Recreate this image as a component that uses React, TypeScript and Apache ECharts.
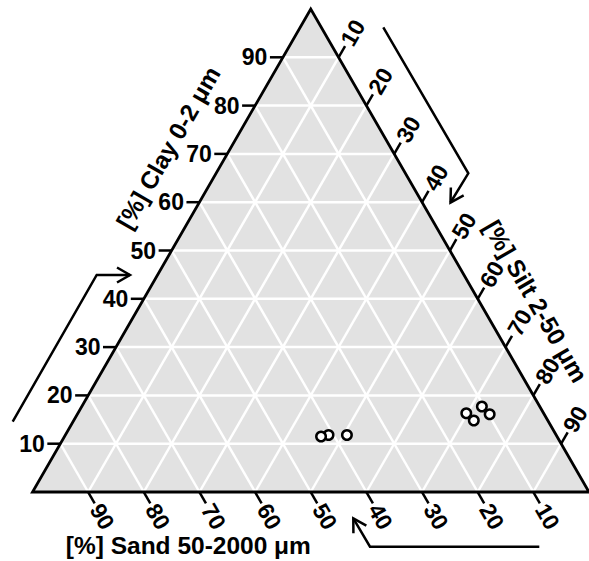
import React, { useEffect, useRef } from "react";
import * as echarts from "echarts";

// ---- data ----
const tickValues = [10, 20, 30, 40, 50, 60, 70, 80, 90];
const tickLabels = tickValues.map((v) => String(v));
const sandPct = [40.9, 42.4, 37.6, 13.9, 13.3, 9.8, 10.4];
const siltPct = [47.3, 46.1, 50.6, 69.8, 71.9, 74.1, 71.9];
const clayPct = [11.8, 11.5, 11.8, 16.3, 14.8, 16.1, 17.7];
const clayTitle = "[%] Clay 0-2 μm";
const siltTitle = "[%] Silt 2-50 μm";
const sandTitle = "[%] Sand 50-2000 μm";

// ternary (sand, silt, clay) -> cartesian data space (0..100, 0..100)
function tern(sa: number, si: number, cl: number): number[] {
  const t = sa + si + cl;
  return [((si + cl / 2) / t) * 100, (cl / t) * 100];
}

const FONT = '"Liberation Sans", Arial, Helvetica, sans-serif';
const S3 = Math.sqrt(3) / 2;

export default function App() {
  const ref = useRef<HTMLDivElement>(null);
  useEffect(() => {
    if (!ref.current) return;
    const chart = echarts.init(ref.current, undefined, { renderer: "svg" });

    // gridline segments (three families)
    const gridSegs: number[][] = [];
    tickValues.forEach((v) => {
      gridSegs.push([...tern(100 - v, 0, v), ...tern(0, 100 - v, v)]); // clay
      gridSegs.push([...tern(v, 100 - v, 0), ...tern(v, 0, 100 - v)]); // sand
      gridSegs.push([...tern(100 - v, v, 0), ...tern(0, v, 100 - v)]); // silt
    });

    const corners = [tern(100, 0, 0), tern(0, 100, 0), tern(0, 0, 100)];

    // tick items: [axis, value, labelIndex]
    const tickItems: number[][] = [];
    tickValues.forEach((v, i) => {
      tickItems.push([0, v, i]);
      tickItems.push([1, v, i]);
      tickItems.push([2, v, i]);
    });

    const points = sandPct.map((s, i) => tern(s, siltPct[i], clayPct[i]));

    const arrowHead = (tip: number[], from: number[]) => {
      const dx = tip[0] - from[0];
      const dy = tip[1] - from[1];
      const len = Math.hypot(dx, dy);
      const ux = dx / len, uy = dy / len;
      const L = 15, a = Math.PI / 6;
      const w = (ang: number) => [
        tip[0] - L * (ux * Math.cos(ang) - uy * Math.sin(ang)),
        tip[1] - L * (ux * Math.sin(ang) + uy * Math.cos(ang)),
      ];
      return [w(a), tip, w(-a)];
    };
    const arrows = [
      [[12.7, 421.7], [96.7, 275], [130, 275]],
      [[383.3, 27.3], [468.3, 173.3], [450.5, 202.5]],
      [[539.3, 546.7], [370, 546.7], [353.3, 518.3]],
    ];
    const arrowGraphics: any[] = [];
    arrows.forEach((pts) => {
      arrowGraphics.push({
        type: "polyline",
        silent: true,
        shape: { points: pts },
        style: { stroke: "#000", lineWidth: 2.5, fill: null },
      });
      arrowGraphics.push({
        type: "polyline",
        silent: true,
        shape: { points: arrowHead(pts[2], pts[1]) },
        style: { stroke: "#000", lineWidth: 2.5, fill: null },
      });
    });

    const option: any = {
      animation: false,
      backgroundColor: "#ffffff",
      grid: { left: 32.5, top: 9, width: 558, height: 483, containLabel: false },
      xAxis: { type: "value", min: 0, max: 100, show: false },
      yAxis: { type: "value", min: 0, max: 100, show: false },
      graphic: arrowGraphics,
      series: [
        {
          type: "custom",
          silent: true,
          clip: false,
          z: 1,
          data: [[0, 0]],
          renderItem: (params: any, api: any) => ({
            type: "polygon",
            shape: { points: corners.map((c) => api.coord(c)) },
            style: { fill: "#e2e2e2", stroke: null },
          }),
        },
        {
          type: "custom",
          silent: true,
          clip: false,
          z: 2,
          data: gridSegs,
          renderItem: (params: any, api: any) => {
            const p1 = api.coord([api.value(0), api.value(1)]);
            const p2 = api.coord([api.value(2), api.value(3)]);
            return {
              type: "line",
              shape: { x1: p1[0], y1: p1[1], x2: p2[0], y2: p2[1] },
              style: { stroke: "#ffffff", lineWidth: 2.5 },
            };
          },
        },
        {
          type: "custom",
          silent: true,
          clip: false,
          z: 3,
          data: [[0, 0]],
          renderItem: (params: any, api: any) => ({
            type: "polygon",
            shape: { points: corners.map((c) => api.coord(c)) },
            style: { fill: null, stroke: "#000", lineWidth: 2.8, lineJoin: "miter" },
          }),
        },
        {
          type: "custom",
          silent: true,
          clip: false,
          z: 4,
          data: tickItems,
          renderItem: (params: any, api: any) => {
            const axis = api.value(0);
            const v = api.value(1);
            const label = tickLabels[api.value(2)];
            let p: number[], d: number[], rot: number, align: string;
            if (axis === 0) {
              p = api.coord(tern(100 - v, 0, v));
              d = [-1, 0];
              rot = 0;
              align = "right";
            } else if (axis === 1) {
              p = api.coord(tern(0, v, 100 - v));
              d = [0.5, -S3];
              rot = Math.PI / 3;
              align = "left";
            } else {
              p = api.coord(tern(v, 100 - v, 0));
              d = [0.5, S3];
              rot = -Math.PI / 3;
              align = "left";
            }
            const tl = 13;
            const lo = 15.5;
            return {
              type: "group",
              children: [
                {
                  type: "line",
                  shape: { x1: p[0], y1: p[1], x2: p[0] + d[0] * tl, y2: p[1] + d[1] * tl },
                  style: { stroke: "#000", lineWidth: 2.5 },
                },
                {
                  type: "text",
                  x: p[0] + d[0] * lo,
                  y: p[1] + d[1] * lo,
                  rotation: rot,
                  style: {
                    text: label,
                    fontSize: 23,
                    fontWeight: "bold",
                    fontFamily: FONT,
                    fill: "#000",
                    align: align,
                    verticalAlign: "middle",
                  },
                },
              ],
            };
          },
        },
        {
          type: "custom",
          silent: true,
          clip: false,
          z: 4,
          data: [[0, 0]],
          renderItem: (params: any, api: any) => {
            const titles = [
              { text: clayTitle, at: tern(34.3, 0, 65.7), n: [-S3, -0.5], off: 54, rot: Math.PI / 3 },
              { text: siltTitle, at: tern(0, 65.6, 34.4), n: [S3, -0.5], off: 49, rot: -Math.PI / 3 },
              { text: sandTitle, at: tern(72, 28, 0), n: [0, 1], off: 53, rot: 0 },
            ];
            return {
              type: "group",
              children: titles.map((t) => {
                const p = api.coord(t.at);
                return {
                  type: "text",
                  x: p[0] + t.n[0] * t.off,
                  y: p[1] + t.n[1] * t.off,
                  rotation: t.rot,
                  style: {
                    text: t.text,
                    fontSize: 24.5,
                    fontWeight: "bold",
                    fontFamily: FONT,
                    fill: "#000",
                    align: "center",
                    verticalAlign: "middle",
                  },
                };
              }),
            };
          },
        },
        {
          type: "scatter",
          z: 5,
          silent: true,
          symbol: "circle",
          symbolSize: 9.5,
          itemStyle: { color: "#ffffff", borderColor: "#000000", borderWidth: 2.5, opacity: 1 },
          data: points,
        },
      ],
    };
    chart.setOption(option);
    return () => chart.dispose();
  }, []);

  return (
    <div
      ref={ref}
      style={{ position: "fixed", left: 0, top: 0, width: 589, height: 561, background: "#fff" }}
    />
  );
}
